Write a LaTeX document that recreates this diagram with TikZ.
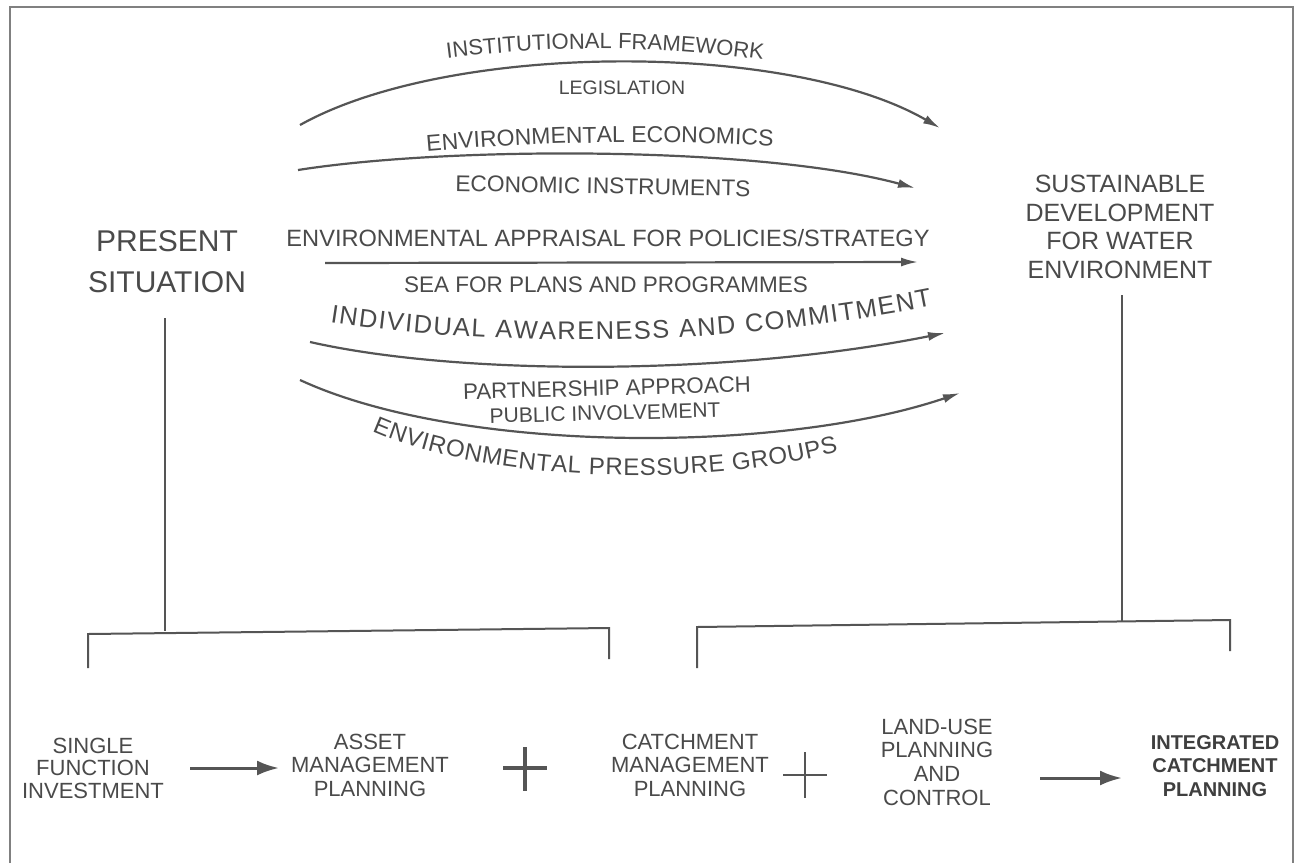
\documentclass[tikz,border=0pt]{standalone}
\usepackage{fontspec}
\setmainfont{Liberation Sans}
\usetikzlibrary{arrows.meta,decorations.text,calc}
\definecolor{ink}{HTML}{4A4A4A}
\definecolor{rulec}{HTML}{555555}
\newcommand\fsTwoTwo{\fontsize{22}{22}\selectfont}
\newcommand\fsTwoThree{\fontsize{23}{23}\selectfont}
\newcommand\fsIndiv{\fontsize{25.5}{26}\selectfont}
\newcommand\fsPress{\fontsize{24}{24}\selectfont}
\begin{document}
\begin{tikzpicture}[x=1pt,y=-1pt,
  lbl/.style={text=ink, align=center, inner sep=0pt},
  flow/.style={draw=rulec, line width=2.2pt, -{Latex[length=17pt,width=9pt]}},
  big/.style={draw=rulec, line width=3pt, -{Latex[length=22pt,width=15pt]}},
  frame/.style={draw=rulec!75, line width=2pt},
  brk/.style={draw=rulec, line width=2pt},
  plusbar/.style={draw=rulec, line width=3.5pt}
]
\useasboundingbox[fill=white] (0,0) rectangle (1300,863);
% frame
\draw[frame] (10,863) -- (10,7) -- (1293,7) -- (1293,863);

% main labels
\node[lbl, font=\fontsize{30}{41}\selectfont] (present) at (167,262) {PRESENT\\SITUATION};
\node[lbl, font=\fontsize{25}{28.5}\selectfont] (sustain) at (1120,227) {SUSTAINABLE\\DEVELOPMENT\\FOR WATER\\ENVIRONMENT};

% straight top labels
\node[lbl, font=\fontsize{19.5}{19}\selectfont] (legis) at (622,88) {LEGISLATION};
\node[lbl, font=\fontsize{22.7}{22}\selectfont, rotate=-1] (econinst) at (603,186) {ECONOMIC INSTRUMENTS};
\node[lbl, font=\fontsize{23.6}{23}\selectfont] (appraisal) at (608,238) {ENVIRONMENTAL APPRAISAL FOR POLICIES/STRATEGY};
\node[lbl, font=\fontsize{22.5}{22}\selectfont] (sea) at (606,285) {SEA FOR PLANS AND PROGRAMMES};
\node[lbl, font=\fontsize{22.3}{22}\selectfont, rotate=1.5] (partner) at (607,388) {PARTNERSHIP APPROACH};
\node[lbl, font=\fontsize{21}{22}\selectfont, rotate=1.5] (public) at (605,413) {PUBLIC INVOLVEMENT};

% curved labels
\path[decorate, decoration={text along path, text color=ink, text align=center,
  text={|\fsTwoTwo|INSTITUTIONAL FRAMEWORK}}]
  (420,62) .. controls (540,44) and (670,44) .. (790,64);
\path[decorate, decoration={text along path, text color=ink, text align=center,
  text={|\fsTwoThree|ENVIRONMENTAL ECONOMICS}}]
  (400,154) .. controls (530,141) and (670,139) .. (800,148);
\path[decorate, decoration={text along path, text color=ink, text align={fit to path},
  text={|\fsIndiv|INDIVIDUAL AWARENESS AND COMMITMENT}}]
  (330,322) .. controls (500,348) and (720,348) .. (932,306);
\path[decorate, decoration={text along path, text color=ink, text align={fit to path},
  text={|\fsPress|ENVIRONMENTAL PRESSURE GROUPS}}]
  (372,431) .. controls (490,483) and (700,488) .. (838,452);

% arrows between the two states
\coordinate (a1s) at (300,125); \coordinate (a1e) at (940,128);
\coordinate (a2s) at (298,170); \coordinate (a2e) at (915,188);
\coordinate (a3s) at (325,263); \coordinate (a3e) at (918,262);
\coordinate (a4s) at (310,342); \coordinate (a4e) at (945,333);
\coordinate (a5s) at (300,380); \coordinate (a5e) at (960,393);
\draw[flow] (a1s) .. controls (450,41) and (790,41) .. (a1e);
\draw[flow] (a2s) .. controls (450,146) and (760,146) .. (a2e);
\draw[flow] (a3s) -- (a3e);
\draw[flow] (a4s) .. controls (460,376) and (730,376) .. (a4e);
\draw[flow] (a5s) .. controls (460,454) and (780,454) .. (a5e);

% bottom row
\node[lbl, font=\fontsize{22}{22.5}\selectfont] (single) at (93,768) {SINGLE\\FUNCTION\\INVESTMENT};
\node[lbl, font=\fontsize{22}{23.5}\selectfont] (asset) at (370,765) {ASSET\\MANAGEMENT\\PLANNING};
\node[lbl, font=\fontsize{22}{23.5}\selectfont] (catch) at (690,765) {CATCHMENT\\MANAGEMENT\\PLANNING};
\node[lbl, font=\fontsize{22}{23.7}\selectfont] (landuse) at (937,762) {LAND-USE\\PLANNING\\AND\\CONTROL};
\node[lbl, font=\bfseries\fontsize{20}{23.5}\selectfont, text=ink!85!black] (integ) at (1215,766) {INTEGRATED\\CATCHMENT\\PLANNING};

\coordinate (b1s) at (190,768); \coordinate (b1e) at (279,768);
\coordinate (b2s) at (1040,778); \coordinate (b2e) at (1122,778);
\draw[big] (b1s) -- (b1e);
\draw[big] (b2s) -- (b2e);

% plus signs
\coordinate (p1) at (525,768);
\coordinate (p2) at (805,775);
\draw[plusbar] ($(p1)+(-22,0)$) -- ($(p1)+(22,0)$);
\draw[plusbar] ($(p1)+(0,-21)$) -- ($(p1)+(0,23)$);
\draw[plusbar, line width=2.6pt] ($(p2)+(-22,0)$) -- ($(p2)+(22,0)$);
\draw[plusbar, line width=2.6pt] ($(p2)+(0,-23)$) -- ($(p2)+(0,23)$);

% brackets
\coordinate (lt) at (165,318); \coordinate (lj) at (165,631);
\coordinate (lb1) at (88,634); \coordinate (lb2) at (609,628);
\draw[brk] (lt) -- (lj);
\draw[brk] (88,668) -- (lb1) -- (lb2) -- (609,659);
\coordinate (rt) at (1122,295); \coordinate (rj) at (1122,622);
\coordinate (rb1) at (697,627); \coordinate (rb2) at (1230,620);
\draw[brk] (rt) -- (rj);
\draw[brk] (697,668) -- (rb1) -- (rb2) -- (1230,651);
\end{tikzpicture}
\end{document}
